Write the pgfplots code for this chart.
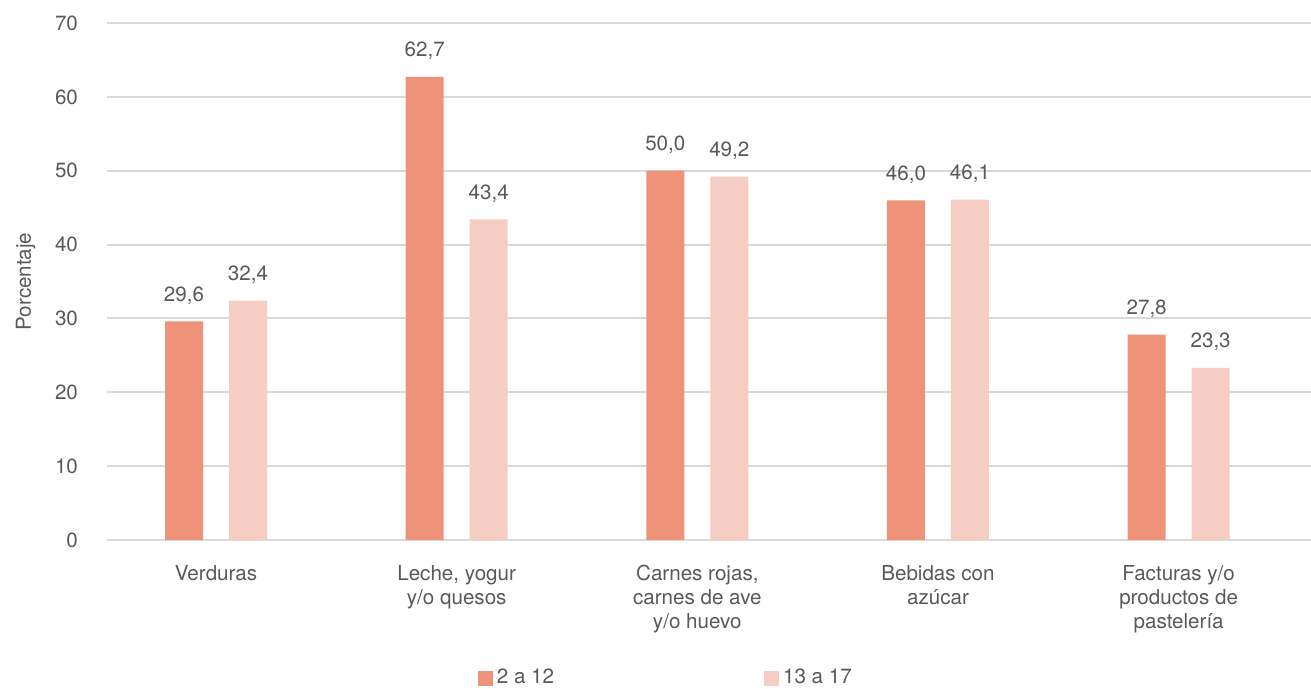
\documentclass[border=0pt]{standalone}
\usepackage{pgfplots}
\pgfplotsset{compat=1.18}
\usepackage{fontspec}
\setmainfont{TeX Gyre Heros}
\definecolor{barA}{RGB}{238,146,122}
\definecolor{barB}{RGB}{246,205,194}
\definecolor{txt}{RGB}{89,89,89}
\definecolor{grd}{RGB}{217,217,217}
\begin{document}
\begin{tikzpicture}
\path[use as bounding box] (-53.5pt,-74.5pt) rectangle (602pt,270pt);
\begin{axis}[
    scale only axis,
    width=602pt, height=258.5pt,
    ybar=13pt, bar width=19pt,
    xmin=-0.453, xmax=4.55,
    ymin=0, ymax=70,
    ytick={0,10,...,70},
    xtick=data,
    xticklabels={Verduras,{Leche, yogur\\y/o quesos},{Carnes rojas,\\carnes de ave\\y/o huevo},{Bebidas con\\azúcar},{Facturas y/o\\productos de\\pastelería}},
    xticklabel style={align=center, yshift=-9pt},
    yticklabel style={xshift=-11pt},
    major tick length=0pt,
    axis line style={draw=none},
    ymajorgrids, major grid style={grd, line width=1pt},
    tick label style={font=\fontsize{10.3}{12}\selectfont, text=txt},
    /pgf/number format/assume math mode=true,
    ylabel={Porcentaje},
    ylabel style={at={(axis description cs:-0.0675,0.5)}, anchor=center, font=\fontsize{10.3}{12}\selectfont, text=txt},
    nodes near coords,
    nodes near coords style={yshift=5pt, font=\fontsize{10.3}{12}\selectfont, text=txt, /pgf/number format/.cd, fixed, fixed zerofill, precision=1, use comma},
    legend style={draw=none, at={(0.465,-0.267)}, anchor=center, font=\fontsize{10.3}{12}\selectfont, text=txt,
        legend columns=2, /tikz/every even column/.append style={column sep=103pt}},
    legend image code/.code={\fill[#1] (0pt,-3.75pt) rectangle (7.5pt,3.75pt);},
    legend cell align=left,
]
\addplot[fill=barA, draw=none] coordinates {(0,29.6) (1,62.7) (2,50.0) (3,46.0) (4,27.8)};
\addplot[fill=barB, draw=none] coordinates {(0,32.4) (1,43.4) (2,49.2) (3,46.1) (4,23.3)};
\legend{2 a 12, 13 a 17}
\end{axis}
\end{tikzpicture}
\end{document}
